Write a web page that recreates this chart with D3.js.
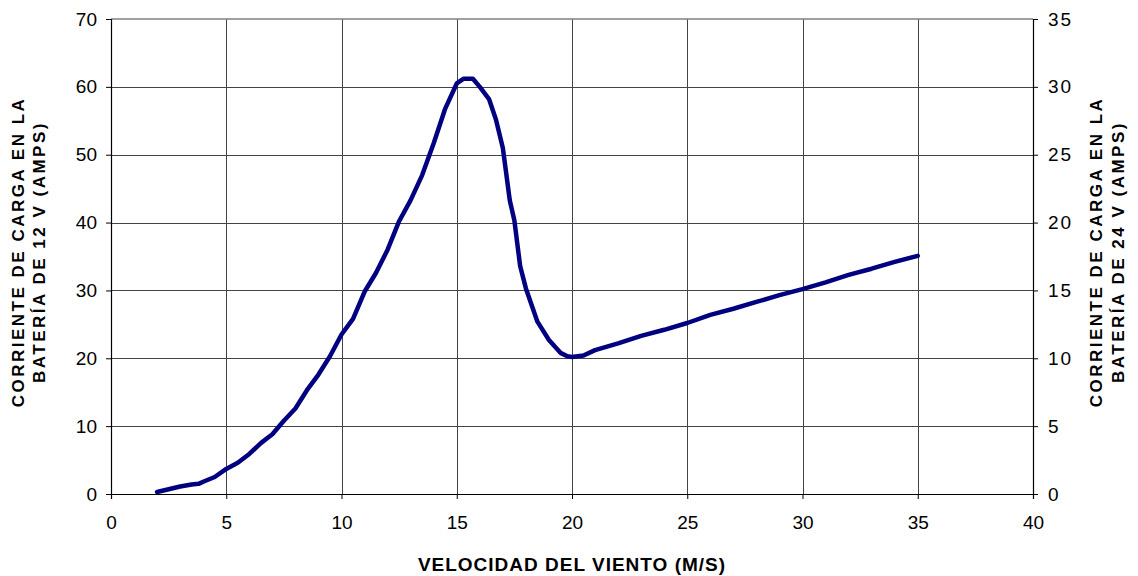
<!DOCTYPE html>
<html>
<head>
<meta charset="utf-8">
<script src="https://cdn.jsdelivr.net/npm/d3@7"></script>
<style>
  body { margin: 0; background: #fff; }
  svg { font-family: "Liberation Sans", Arial, sans-serif; }
</style>
</head>
<body>
<svg id="chart" width="1138" height="576"></svg>
<script>
// wind speed (m/s) and charge current on the 12 V battery (amps)
var windSpeed = [2, 2.5, 3, 3.5, 3.8, 4, 4.5, 5, 5.5, 6, 6.5, 7, 7.5, 8, 8.5, 9, 9.5, 10,
  10.5, 11, 11.5, 12, 12.5, 13, 13.5, 14, 14.5, 15, 15.3, 15.7, 16, 16.4, 16.7, 17,
  17.3, 17.5, 17.75, 18, 18.5, 19, 19.5, 19.8, 20, 20.5, 21, 22, 23, 24, 25, 26, 27,
  28, 29, 30, 31, 32, 33, 34, 35];
var current12 = [0.3, 0.7, 1.1, 1.4, 1.5, 1.8, 2.5, 3.7, 4.6, 5.9, 7.5, 8.8, 10.8, 12.6,
  15.3, 17.6, 20.3, 23.5, 25.8, 29.8, 32.6, 36, 40.2, 43.3, 47, 51.7, 56.8, 60.5, 61.2,
  61.2, 60, 58.2, 55.2, 51, 43.3, 40.3, 33.6, 30.3, 25.4, 22.7, 20.8, 20.3, 20.2, 20.4,
  21.2, 22.2, 23.3, 24.2, 25.2, 26.4, 27.3, 28.3, 29.3, 30.2, 31.2, 32.3, 33.2, 34.2, 35.1];

var xTicks = [0, 5, 10, 15, 20, 25, 30, 35, 40];
var yLeftTicks = [0, 10, 20, 30, 40, 50, 60, 70];
var yRightTicks = [0, 5, 10, 15, 20, 25, 30, 35];

var xTitle = "VELOCIDAD DEL VIENTO (M/S)";
var leftTitle = ["CORRIENTE DE CARGA EN LA", "BATERÍA DE 12 V (AMPS)"];
var rightTitle = ["CORRIENTE DE CARGA EN LA", "BATERÍA DE 24 V (AMPS)"];

// plot area
var plotLeft = 111, plotRight = 1033, plotTop = 19, plotBottom = 494;

var svg = d3.select('#chart');

var xScale = d3.scaleLinear().domain([0, 40]).range([plotLeft, plotRight]);
var yScale = d3.scaleLinear().domain([0, 70]).range([plotBottom, plotTop]);
var y2Scale = d3.scaleLinear().domain([0, 35]).range([plotBottom, plotTop]);

// gridlines
svg.append('g')
  .selectAll('line')
  .data(xTicks.slice(1, -1))
  .enter()
  .append('line')
  .attr('x1', function(d) { return Math.round(xScale(d)) + 0.5; })
  .attr('x2', function(d) { return Math.round(xScale(d)) + 0.5; })
  .attr('y1', plotTop)
  .attr('y2', plotBottom)
  .attr('stroke', '#444')
  .attr('stroke-width', 1);

svg.append('g')
  .selectAll('line')
  .data(yLeftTicks.slice(1, -1))
  .enter()
  .append('line')
  .attr('x1', plotLeft)
  .attr('x2', plotRight)
  .attr('y1', function(d) { return Math.round(yScale(d)) + 0.5; })
  .attr('y2', function(d) { return Math.round(yScale(d)) + 0.5; })
  .attr('stroke', '#444')
  .attr('stroke-width', 1);

// top border
svg.append('line')
  .attr('x1', plotLeft).attr('x2', plotRight)
  .attr('y1', plotTop).attr('y2', plotTop)
  .attr('stroke', '#808080')
  .attr('stroke-width', 1.5);

// axes
var xAxis = d3.axisBottom(xScale).tickValues(xTicks).tickSize(5).tickPadding(17);
var yAxis = d3.axisLeft(yScale).tickValues(yLeftTicks).tickSize(5).tickPadding(9);
var y2Axis = d3.axisRight(y2Scale).tickValues(yRightTicks).tickSize(5).tickPadding(10);

function styleAxis(g) {
  g.select('.domain').attr('stroke', '#000').attr('stroke-width', 1.2);
  g.selectAll('.tick line').attr('stroke', '#000');
  g.selectAll('.tick text')
    .attr('fill', '#000')
    .style('font-size', '19px')
    .style('font-family', '"Liberation Sans", Arial, sans-serif');
}

svg.append('g')
  .attr('transform', 'translate(0,' + plotBottom + ')')
  .call(xAxis)
  .call(styleAxis);

svg.append('g')
  .attr('transform', 'translate(' + plotLeft + ',0)')
  .call(yAxis)
  .call(styleAxis);

svg.append('g')
  .attr('transform', 'translate(' + plotRight + ',0)')
  .call(y2Axis)
  .call(styleAxis)
  .selectAll('.tick text')
  .style('letter-spacing', '2px');

// the curve
var points = windSpeed.map(function(v, i) { return [v, current12[i]]; });
var lineGenerator = d3.line()
  .x(function(d) { return xScale(d[0]); })
  .y(function(d) { return yScale(d[1]); });

svg.append('path')
  .attr('d', lineGenerator(points))
  .attr('fill', 'none')
  .attr('stroke', '#000080')
  .attr('stroke-width', 4.5)
  .attr('stroke-linejoin', 'round')
  .attr('stroke-linecap', 'round');

// axis titles
svg.append('text')
  .attr('x', (plotLeft + plotRight) / 2)
  .attr('y', 571)
  .attr('text-anchor', 'middle')
  .style('font-size', '19px')
  .style('font-weight', 'bold')
  .style('letter-spacing', '1px')
  .text(xTitle);

var midY = 252;
leftTitle.forEach(function(t, i) {
  var bx = 24 + i * 21;
  svg.append('text')
    .attr('transform', 'translate(' + bx + ',' + midY + ') rotate(-90)')
    .attr('text-anchor', 'middle')
    .style('font-size', '17px')
    .style('font-weight', 'bold')
    .style('letter-spacing', '2.5px')
    .text(t);
});

rightTitle.forEach(function(t, i) {
  var bx = 1102 + i * 22;
  svg.append('text')
    .attr('transform', 'translate(' + bx + ',' + midY + ') rotate(-90)')
    .attr('text-anchor', 'middle')
    .style('font-size', '17px')
    .style('font-weight', 'bold')
    .style('letter-spacing', '2.5px')
    .text(t);
});
</script>
</body>
</html>
